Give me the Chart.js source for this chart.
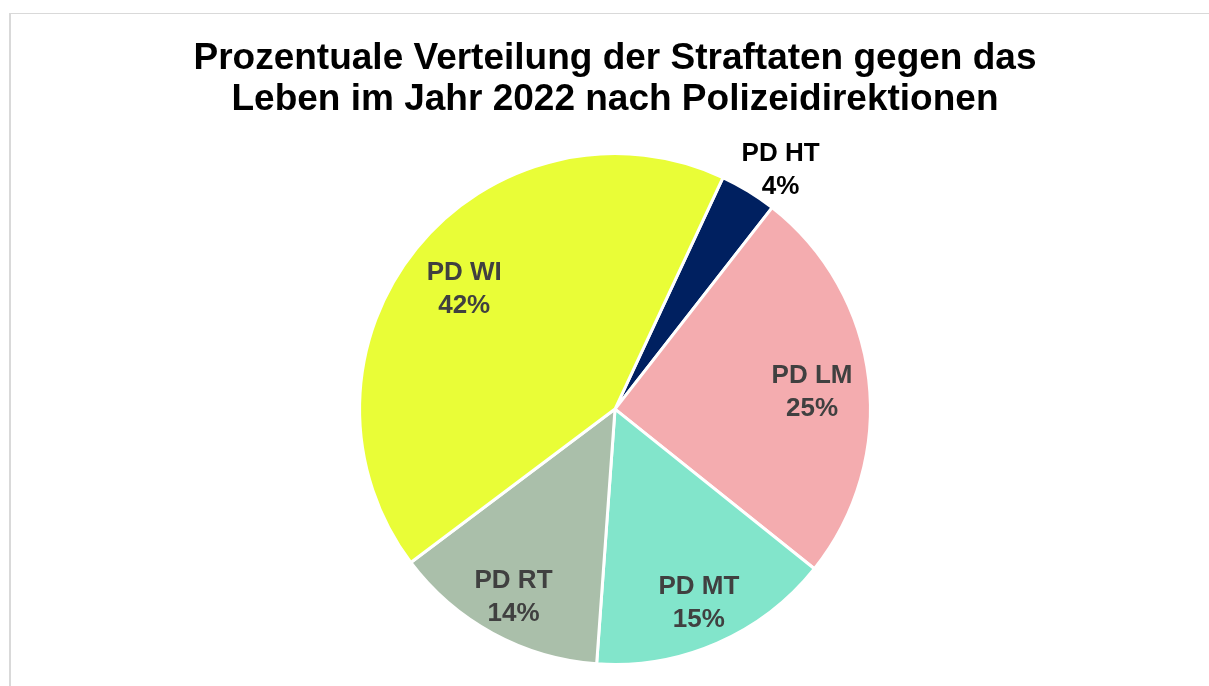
<!DOCTYPE html>
<html>
<head>
<meta charset="utf-8">
<script src="https://cdn.jsdelivr.net/npm/chart.js@4/dist/chart.umd.min.js"></script>
<style>
    html, body { margin: 0; padding: 0; background: #fff; }
    #wrap { position: relative; width: 1209px; height: 686px; overflow: hidden; }
    #frame { position: absolute; left: 9px; top: 13px; width: 1300px; height: 800px;
             border-left: 2px solid #d9d9d9; border-top: 1px solid #d9d9d9; }
    #pieChart { position: absolute; left: 0; top: 0; }
</style>
</head>
<body>
<div id="wrap">
    <div id="frame"></div>
    <canvas id="pieChart" width="1209" height="686"></canvas>
</div>

<script>
    const labels = ["PD HT", "PD LM", "PD MT", "PD RT", "PD WI"]
    const shares = [3.6, 25.2, 15.4, 13.6, 42.2]
    const colors = ["#002060", "#F4ACAF", "#82E5CB", "#AABFAA", "#E9FD37"]
    const labelColors = ["#000000", "#404040", "#404040", "#404040", "#404040"]

    // label placement: part of the radius, and a turn in degrees
    const labelDist = [1.145, 0.775, 0.82, 0.83, 0.76]
    const labelTurn = [3, 1, 0, 0, 0]

    const sliceLabels = {
        id: "sliceLabels",
        afterDatasetsDraw(chart) {
            const ctx = chart.ctx
            const arcs = chart.getDatasetMeta(0).data
            const total = shares.reduce((a, b) => a + b, 0)
            ctx.save()
            ctx.font = "bold 26px 'Liberation Sans', Arial, sans-serif"
            ctx.textAlign = "center"
            ctx.textBaseline = "middle"
            arcs.forEach((arc, i) => {
                const mid = (arc.startAngle + arc.endAngle) / 2 + labelTurn[i] * Math.PI / 180
                const d = arc.outerRadius * labelDist[i]
                const x = arc.x + Math.cos(mid) * d
                const y = arc.y + Math.sin(mid) * d
                ctx.fillStyle = labelColors[i]
                ctx.fillText(labels[i], x, y - 14)
                ctx.fillText(Math.round(shares[i] / total * 100) + "%", x, y + 19)
            })
            ctx.restore()
        }
    }

    new Chart(document.getElementById("pieChart"), {
        type: "pie",
        data: {
            labels: labels,
            datasets: [{
                data: shares,
                backgroundColor: colors,
                borderColor: "#ffffff",
                borderWidth: 3
            }]
        },
        options: {
            responsive: false,
            animation: false,
            rotation: 25,
            layout: { padding: { left: 21, right: 0, top: 0, bottom: 20 } },
            plugins: {
                legend: { display: false },
                tooltip: { enabled: false },
                title: {
                    display: true,
                    text: ["Prozentuale Verteilung der Straftaten gegen das", "Leben im Jahr 2022 nach Polizeidirektionen"],
                    color: "#000000",
                    font: { family: "'Liberation Sans', Arial, sans-serif", size: 37, weight: "bold", lineHeight: 1.11 },
                    padding: { top: 38, bottom: 32 }
                }
            }
        },
        plugins: [sliceLabels]
    })
</script>
</body>
</html>
